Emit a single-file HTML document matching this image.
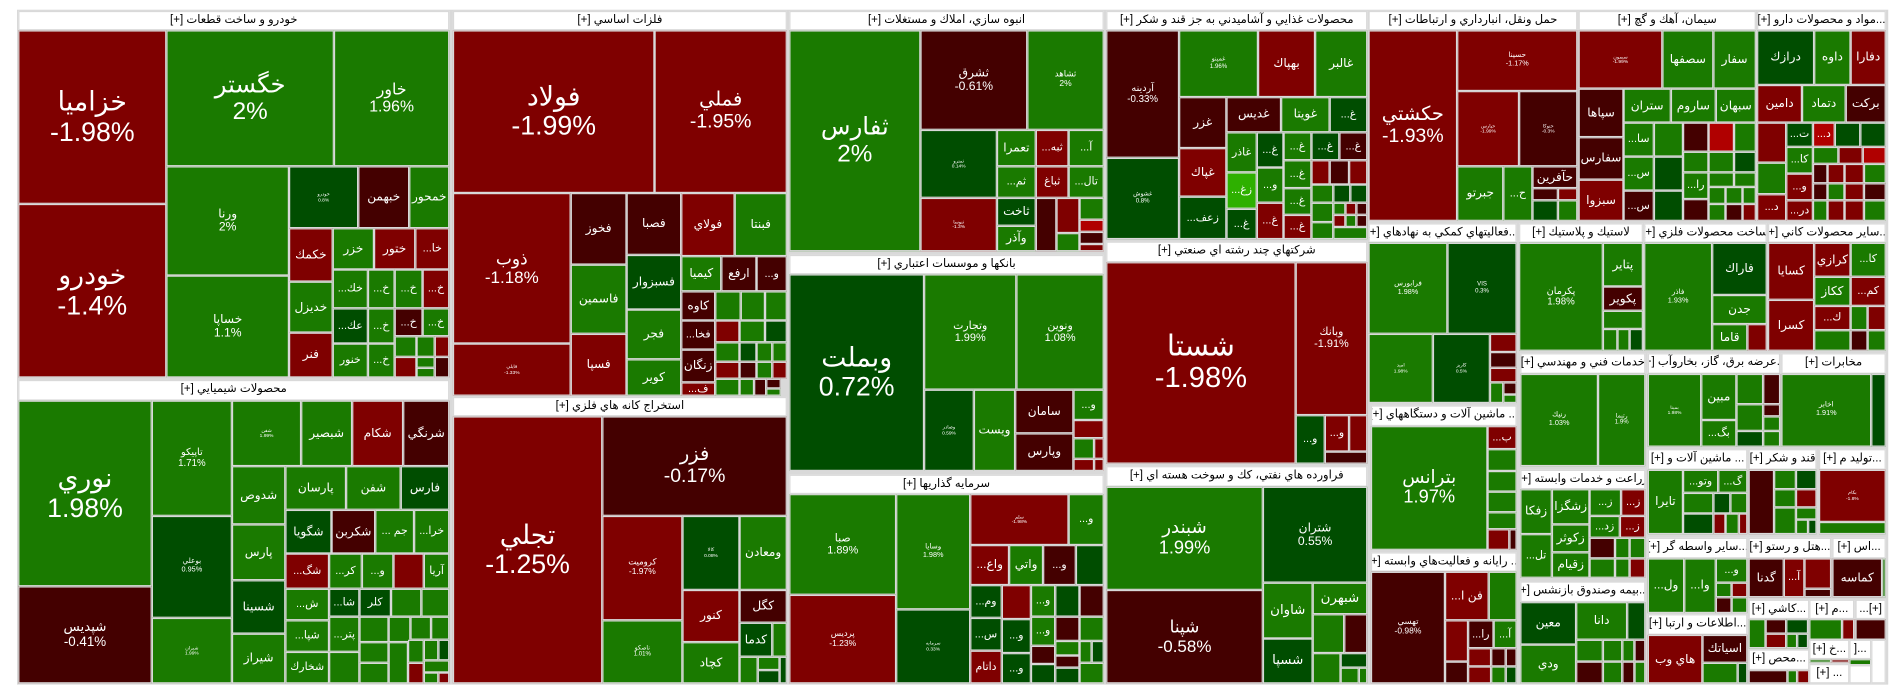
<!DOCTYPE html>
<html><head><meta charset="utf-8">
<style>
html,body{margin:0;padding:0;background:#fff;width:1904px;height:698px;overflow:hidden}
#c{position:absolute;left:0;top:0;width:1568px;height:575px;transform:scale(1.21429,1.2139);transform-origin:0 0;font-family:"Liberation Sans","DejaVu Sans",sans-serif}
#f{position:absolute;left:14px;top:8px;width:1541px;height:556px;background:#d9d9d9}
.t{position:absolute;box-sizing:border-box;border:1px solid #d9d9d9;display:flex;flex-direction:column;align-items:center;justify-content:center;color:#fff;overflow:hidden;text-align:center;line-height:1.1;white-space:nowrap;font-size:9px;direction:ltr}
.h{background:#fff;color:#000;font-size:9.5px;direction:rtl}
.r{background:#7f0000}.m{background:#440000}.g{background:#1a7a00}.d{background:#004d00}.b{background:#b00000}.l{background:#2eb000}.w{background:#fff}
</style></head><body><div id="c"><div id="f"></div>

<div class="t h" style="left:15px;top:9px;width:355px;height:16px">خودرو و ساخت قطعات [+]</div>
<div class="t r" style="left:15px;top:25px;width:122px;height:143px;font-size:22px">خزاميا<br>-1.98%</div>
<div class="t r" style="left:15px;top:168px;width:122px;height:143px;font-size:22px">خودرو<br>-1.4%</div>
<div class="t g" style="left:137px;top:25px;width:138px;height:112px;font-size:20px">خگستر<br>2%</div>
<div class="t g" style="left:275px;top:25px;width:95px;height:112px;font-size:13px">خاور<br>1.96%</div>
<div class="t g" style="left:137px;top:137px;width:101px;height:90px;font-size:10px">ورنا<br>2%</div>
<div class="t g" style="left:137px;top:227px;width:101px;height:84px;font-size:10px">خساپا<br>1.1%</div>
<div class="t d" style="left:238px;top:137px;width:57px;height:51px;font-size:4px">خودرو<br>0.8%</div>
<div class="t m" style="left:295px;top:137px;width:42px;height:51px;font-size:10px">خبهمن</div>
<div class="t g" style="left:337px;top:137px;width:33px;height:51px;font-size:10px">خمحور</div>
<div class="t r" style="left:238px;top:188px;width:36px;height:44px;font-size:10px">خكمك</div>
<div class="t g" style="left:238px;top:232px;width:36px;height:42px;font-size:10px">خديزل</div>
<div class="t r" style="left:238px;top:274px;width:36px;height:37px;font-size:10px">فنر</div>
<div class="t g" style="left:274px;top:188px;width:34px;height:34px;font-size:10px">خزر</div>
<div class="t r" style="left:308px;top:188px;width:34px;height:34px;font-size:10px">ختور</div>
<div class="t r" style="left:342px;top:188px;width:28px;height:34px;font-size:9px">...خا</div>
<div class="t g" style="left:274px;top:222px;width:29px;height:32px">...خك</div>
<div class="t g" style="left:303px;top:222px;width:22px;height:32px">...خ</div>
<div class="t g" style="left:325px;top:222px;width:23px;height:32px">...خ</div>
<div class="t r" style="left:348px;top:222px;width:22px;height:32px">...خ</div>
<div class="t d" style="left:274px;top:254px;width:29px;height:29px">...عك</div>
<div class="t g" style="left:303px;top:254px;width:22px;height:29px">...خ</div>
<div class="t m" style="left:325px;top:254px;width:23px;height:23px">...خ</div>
<div class="t g" style="left:348px;top:254px;width:22px;height:23px">...خ</div>
<div class="t g" style="left:274px;top:283px;width:29px;height:28px">خنور</div>
<div class="t g" style="left:303px;top:283px;width:22px;height:28px">...خ</div>
<div class="t g" style="left:325px;top:277px;width:18px;height:17px"></div>
<div class="t g" style="left:343px;top:277px;width:15px;height:17px"></div>
<div class="t r" style="left:358px;top:277px;width:12px;height:17px"></div>
<div class="t r" style="left:325px;top:294px;width:18px;height:17px"></div>
<div class="t g" style="left:343px;top:294px;width:15px;height:9px"></div>
<div class="t g" style="left:343px;top:303px;width:15px;height:8px"></div>
<div class="t m" style="left:358px;top:294px;width:12px;height:17px"></div>

<div class="t h" style="left:15px;top:313px;width:355px;height:17px">محصولات شيميايي [+]</div>
<div class="t g" style="left:15px;top:330px;width:110px;height:153px;font-size:22px">نوري<br>1.98%</div>
<div class="t m" style="left:15px;top:483px;width:110px;height:80px;font-size:11px">شپديس<br>-0.41%</div>
<div class="t g" style="left:125px;top:330px;width:66px;height:95px;font-size:8px">تاپيكو<br>1.71%</div>
<div class="t d" style="left:125px;top:425px;width:66px;height:84px;font-size:6px">بوعلي<br>0.95%</div>
<div class="t g" style="left:125px;top:509px;width:66px;height:54px;font-size:4px">شيران<br>1.99%</div>
<div class="t g" style="left:191px;top:330px;width:57px;height:54px;font-size:4px">شفن<br>1.99%</div>
<div class="t g" style="left:191px;top:384px;width:44px;height:48px;font-size:10px">شدوص</div>
<div class="t g" style="left:191px;top:432px;width:44px;height:46px;font-size:10px">پارس</div>
<div class="t d" style="left:191px;top:478px;width:44px;height:44px;font-size:10px">شسينا</div>
<div class="t g" style="left:191px;top:522px;width:44px;height:41px;font-size:10px">شيراز</div>
<div class="t g" style="left:248px;top:330px;width:42px;height:54px;font-size:10px">شبصير</div>
<div class="t r" style="left:290px;top:330px;width:42px;height:54px;font-size:10px">شكام</div>
<div class="t m" style="left:332px;top:330px;width:38px;height:54px;font-size:10px">شرنگي</div>
<div class="t g" style="left:235px;top:384px;width:50px;height:36px;font-size:10px">پارسان</div>
<div class="t g" style="left:285px;top:384px;width:45px;height:36px;font-size:10px">شفن</div>
<div class="t d" style="left:330px;top:384px;width:40px;height:36px;font-size:10px">فارس</div>
<div class="t d" style="left:235px;top:420px;width:38px;height:36px;font-size:10px">شگويا</div>
<div class="t m" style="left:273px;top:420px;width:36px;height:36px;font-size:10px">شكربن</div>
<div class="t g" style="left:309px;top:420px;width:32px;height:36px">... جم</div>
<div class="t g" style="left:341px;top:420px;width:29px;height:36px">...خرا</div>
<div class="t r" style="left:235px;top:456px;width:36px;height:29px">...شگ</div>
<div class="t g" style="left:271px;top:456px;width:27px;height:29px">...كر</div>
<div class="t g" style="left:298px;top:456px;width:26px;height:29px">...و</div>
<div class="t r" style="left:324px;top:456px;width:25px;height:29px"></div>
<div class="t g" style="left:349px;top:456px;width:21px;height:29px">آريا</div>
<div class="t g" style="left:235px;top:485px;width:36px;height:26px">...ش</div>
<div class="t d" style="left:271px;top:485px;width:25px;height:23px">...شا</div>
<div class="t d" style="left:296px;top:485px;width:26px;height:23px">كلر</div>
<div class="t g" style="left:322px;top:485px;width:25px;height:23px"></div>
<div class="t g" style="left:347px;top:485px;width:23px;height:23px"></div>
<div class="t g" style="left:235px;top:511px;width:36px;height:26px">...شپا</div>
<div class="t g" style="left:235px;top:537px;width:36px;height:26px">شخارك</div>
<div class="t g" style="left:271px;top:508px;width:25px;height:29px">...پتر</div>
<div class="t g" style="left:271px;top:537px;width:25px;height:26px"></div>
<div class="t g" style="left:296px;top:508px;width:24px;height:21px"></div>
<div class="t g" style="left:320px;top:508px;width:18px;height:21px"></div>
<div class="t g" style="left:338px;top:508px;width:17px;height:19px"></div>
<div class="t g" style="left:355px;top:508px;width:15px;height:19px"></div>
<div class="t g" style="left:296px;top:529px;width:24px;height:17px"></div>
<div class="t g" style="left:296px;top:546px;width:24px;height:17px"></div>
<div class="t g" style="left:320px;top:529px;width:16px;height:34px"></div>
<div class="t g" style="left:336px;top:527px;width:13px;height:19px"></div>
<div class="t r" style="left:336px;top:546px;width:13px;height:17px"></div>
<div class="t g" style="left:349px;top:527px;width:12px;height:17px"></div>
<div class="t d" style="left:361px;top:527px;width:9px;height:17px"></div>
<div class="t g" style="left:349px;top:544px;width:21px;height:10px"></div>
<div class="t g" style="left:349px;top:554px;width:12px;height:9px"></div>
<div class="t r" style="left:361px;top:554px;width:9px;height:9px"></div>

<div class="t h" style="left:373px;top:9px;width:275px;height:16px">فلزات اساسي [+]</div>
<div class="t r" style="left:373px;top:25px;width:166px;height:134px;font-size:22px">فولاد<br>-1.99%</div>
<div class="t r" style="left:539px;top:25px;width:109px;height:134px;font-size:16px">فملي<br>-1.95%</div>
<div class="t r" style="left:373px;top:159px;width:97px;height:124px;font-size:14px">ذوب<br>-1.18%</div>
<div class="t r" style="left:373px;top:283px;width:97px;height:43px;font-size:4px">فايلي<br>-1.33%</div>
<div class="t m" style="left:470px;top:159px;width:46px;height:59px;font-size:10px">فخوز</div>
<div class="t g" style="left:470px;top:218px;width:46px;height:57px;font-size:10px">فاسمين</div>
<div class="t r" style="left:470px;top:275px;width:46px;height:51px;font-size:10px">فسپا</div>
<div class="t m" style="left:516px;top:159px;width:45px;height:51px;font-size:10px">فصبا</div>
<div class="t d" style="left:516px;top:210px;width:45px;height:45px;font-size:10px">فسبزوار</div>
<div class="t g" style="left:516px;top:255px;width:45px;height:41px;font-size:10px">فجر</div>
<div class="t g" style="left:516px;top:296px;width:45px;height:30px;font-size:10px">كوير</div>
<div class="t r" style="left:561px;top:159px;width:44px;height:52px;font-size:10px">فولاي</div>
<div class="t g" style="left:605px;top:159px;width:43px;height:52px;font-size:10px">فبنتا</div>
<div class="t g" style="left:561px;top:211px;width:33px;height:29px;font-size:10px">كيميا</div>
<div class="t m" style="left:594px;top:211px;width:29px;height:29px;font-size:10px">ارفع</div>
<div class="t m" style="left:623px;top:211px;width:25px;height:29px">...و</div>
<div class="t m" style="left:561px;top:240px;width:28px;height:24px;font-size:10px">كاوه</div>
<div class="t m" style="left:561px;top:264px;width:28px;height:24px">...فخا</div>
<div class="t m" style="left:561px;top:288px;width:28px;height:27px;font-size:10px">زنگان</div>
<div class="t r" style="left:561px;top:315px;width:28px;height:11px">...ف</div>
<div class="t g" style="left:589px;top:240px;width:21px;height:24px"></div>
<div class="t g" style="left:610px;top:240px;width:20px;height:24px"></div>
<div class="t g" style="left:630px;top:240px;width:18px;height:24px"></div>
<div class="t r" style="left:589px;top:264px;width:20px;height:18px"></div>
<div class="t g" style="left:609px;top:264px;width:21px;height:18px"></div>
<div class="t d" style="left:630px;top:264px;width:18px;height:18px"></div>
<div class="t g" style="left:589px;top:282px;width:20px;height:16px"></div>
<div class="t d" style="left:609px;top:282px;width:14px;height:16px"></div>
<div class="t g" style="left:623px;top:282px;width:13px;height:16px"></div>
<div class="t g" style="left:636px;top:282px;width:12px;height:16px"></div>
<div class="t r" style="left:589px;top:298px;width:20px;height:14px"></div>
<div class="t m" style="left:609px;top:298px;width:14px;height:14px"></div>
<div class="t g" style="left:623px;top:298px;width:13px;height:14px"></div>
<div class="t r" style="left:636px;top:298px;width:12px;height:14px"></div>
<div class="t g" style="left:589px;top:312px;width:20px;height:14px"></div>
<div class="t g" style="left:609px;top:312px;width:12px;height:14px"></div>
<div class="t m" style="left:621px;top:312px;width:10px;height:14px"></div>
<div class="t m" style="left:631px;top:312px;width:12px;height:8px"></div>
<div class="t g" style="left:631px;top:320px;width:12px;height:6px"></div>

<div class="t h" style="left:373px;top:327px;width:275px;height:16px">استخراج كانه هاي فلزي [+]</div>
<div class="t r" style="left:373px;top:343px;width:123px;height:220px;font-size:22px">تجلي<br>-1.25%</div>
<div class="t m" style="left:496px;top:343px;width:152px;height:82px;font-size:16px">فزر<br>-0.17%</div>
<div class="t r" style="left:496px;top:425px;width:66px;height:86px;font-size:7px">كروميت<br>-1.97%</div>
<div class="t g" style="left:496px;top:511px;width:66px;height:52px;font-size:5px">ناصكو<br>1.01%</div>
<div class="t d" style="left:562px;top:425px;width:47px;height:61px;font-size:4px">كالا<br>0.08%</div>
<div class="t g" style="left:609px;top:425px;width:39px;height:61px;font-size:10px">ومعادن</div>
<div class="t r" style="left:562px;top:486px;width:47px;height:43px;font-size:10px">كنور</div>
<div class="t g" style="left:562px;top:529px;width:47px;height:34px;font-size:10px">كچاد</div>
<div class="t m" style="left:609px;top:486px;width:39px;height:27px;font-size:10px">كگل</div>
<div class="t d" style="left:609px;top:513px;width:27px;height:28px;font-size:10px">كدما</div>
<div class="t g" style="left:636px;top:513px;width:12px;height:28px"></div>
<div class="t g" style="left:609px;top:541px;width:15px;height:22px"></div>
<div class="t g" style="left:624px;top:541px;width:18px;height:11px"></div>
<div class="t d" style="left:624px;top:552px;width:18px;height:11px"></div>
<div class="t d" style="left:642px;top:541px;width:6px;height:22px"></div>

<div class="t h" style="left:650px;top:9px;width:259px;height:16px">انبوه سازي، املاك و مستغلات [+]</div>
<div class="t g" style="left:650px;top:25px;width:108px;height:182px;font-size:20px">ثفارس<br>2%</div>
<div class="t m" style="left:758px;top:25px;width:88px;height:82px;font-size:10px">ثشرق<br>-0.61%</div>
<div class="t g" style="left:846px;top:25px;width:63px;height:82px;font-size:7px">ثشاهد<br>2%</div>
<div class="t d" style="left:758px;top:107px;width:63px;height:56px;font-size:4px">ثمترو<br>0.14%</div>
<div class="t r" style="left:758px;top:163px;width:63px;height:44px;font-size:4px">ثنوسا<br>-1.3%</div>
<div class="t g" style="left:821px;top:107px;width:32px;height:30px;font-size:10px">تعمرا</div>
<div class="t g" style="left:821px;top:137px;width:32px;height:26px">...ثم</div>
<div class="t d" style="left:821px;top:163px;width:32px;height:23px;font-size:10px">ثاخت</div>
<div class="t g" style="left:821px;top:186px;width:32px;height:21px;font-size:10px">وآذر</div>
<div class="t r" style="left:853px;top:107px;width:27px;height:30px">...ثبه</div>
<div class="t r" style="left:853px;top:137px;width:27px;height:26px">ثباغ</div>
<div class="t m" style="left:853px;top:163px;width:17px;height:44px"></div>
<div class="t r" style="left:870px;top:163px;width:19px;height:29px"></div>
<div class="t g" style="left:870px;top:192px;width:19px;height:15px"></div>
<div class="t g" style="left:880px;top:107px;width:29px;height:30px">...آ</div>
<div class="t g" style="left:880px;top:137px;width:29px;height:26px">...تال</div>
<div class="t g" style="left:889px;top:163px;width:20px;height:18px"></div>
<div class="t b" style="left:889px;top:181px;width:20px;height:10px"></div>
<div class="t m" style="left:889px;top:191px;width:20px;height:10px"></div>
<div class="t r" style="left:889px;top:201px;width:20px;height:6px"></div>

<div class="t h" style="left:650px;top:210px;width:259px;height:16px">بانكها و موسسات اعتباري [+]</div>
<div class="t d" style="left:650px;top:226px;width:111px;height:162px;font-size:22px">وبملت<br>0.72%</div>
<div class="t g" style="left:761px;top:226px;width:76px;height:95px;font-size:9px">وتجارت<br>1.99%</div>
<div class="t g" style="left:837px;top:226px;width:72px;height:95px;font-size:9px">ونوين<br>1.08%</div>
<div class="t d" style="left:761px;top:321px;width:41px;height:67px;font-size:4px">وصادر<br>0.59%</div>
<div class="t g" style="left:802px;top:321px;width:34px;height:67px;font-size:10px">ويست</div>
<div class="t m" style="left:836px;top:321px;width:48px;height:36px;font-size:10px">سامان</div>
<div class="t m" style="left:836px;top:357px;width:48px;height:31px;font-size:10px">وپارس</div>
<div class="t g" style="left:884px;top:321px;width:25px;height:25px">...و</div>
<div class="t r" style="left:884px;top:346px;width:25px;height:15px"></div>
<div class="t g" style="left:884px;top:361px;width:17px;height:17px"></div>
<div class="t r" style="left:901px;top:361px;width:8px;height:17px"></div>
<div class="t r" style="left:884px;top:378px;width:17px;height:10px"></div>
<div class="t r" style="left:901px;top:378px;width:8px;height:10px"></div>

<div class="t h" style="left:650px;top:391px;width:259px;height:16px">سرمايه گذاريها [+]</div>
<div class="t g" style="left:650px;top:407px;width:88px;height:83px;font-size:9px">صبا<br>1.89%</div>
<div class="t r" style="left:650px;top:490px;width:88px;height:73px;font-size:7px">پرديس<br>-1.23%</div>
<div class="t g" style="left:738px;top:407px;width:61px;height:95px;font-size:6px">وسايا<br>1.98%</div>
<div class="t d" style="left:738px;top:502px;width:61px;height:61px;font-size:4px">سرمايه<br>0.33%</div>
<div class="t r" style="left:799px;top:407px;width:81px;height:42px;font-size:4px">سلم<br>-1.98%</div>
<div class="t g" style="left:880px;top:407px;width:29px;height:42px">...و</div>
<div class="t r" style="left:799px;top:449px;width:32px;height:33px;font-size:10px">...واع</div>
<div class="t g" style="left:831px;top:449px;width:28px;height:33px;font-size:10px">واتي</div>
<div class="t m" style="left:859px;top:449px;width:27px;height:33px">...و</div>
<div class="t d" style="left:886px;top:449px;width:23px;height:33px"></div>
<div class="t d" style="left:799px;top:482px;width:26px;height:27px">...وم</div>
<div class="t d" style="left:799px;top:509px;width:26px;height:27px">...س</div>
<div class="t r" style="left:799px;top:536px;width:26px;height:27px">داتام</div>
<div class="t r" style="left:825px;top:482px;width:24px;height:28px"></div>
<div class="t d" style="left:825px;top:510px;width:24px;height:28px">...و</div>
<div class="t d" style="left:825px;top:538px;width:24px;height:25px">...و</div>
<div class="t g" style="left:849px;top:482px;width:20px;height:26px">...و</div>
<div class="t g" style="left:849px;top:508px;width:20px;height:24px">...و</div>
<div class="t m" style="left:849px;top:532px;width:20px;height:15px"></div>
<div class="t d" style="left:849px;top:547px;width:20px;height:16px"></div>
<div class="t d" style="left:869px;top:482px;width:20px;height:26px"></div>
<div class="t m" style="left:869px;top:508px;width:20px;height:20px"></div>
<div class="t g" style="left:869px;top:528px;width:20px;height:12px"></div>
<div class="t m" style="left:869px;top:540px;width:20px;height:10px"></div>
<div class="t d" style="left:869px;top:550px;width:20px;height:13px"></div>
<div class="t m" style="left:889px;top:482px;width:20px;height:26px"></div>
<div class="t g" style="left:889px;top:508px;width:20px;height:20px"></div>
<div class="t g" style="left:889px;top:528px;width:10px;height:18px"></div>
<div class="t d" style="left:899px;top:528px;width:10px;height:18px"></div>
<div class="t g" style="left:889px;top:546px;width:20px;height:17px"></div>

<div class="t h" style="left:911px;top:9px;width:215px;height:16px">محصولات غذايي و آشاميدني به جز قند و شكر [+]</div>
<div class="t m" style="left:911px;top:25px;width:60px;height:105px;font-size:8px">آردينه<br>-0.33%</div>
<div class="t d" style="left:911px;top:130px;width:60px;height:67px;font-size:5px">غشوش<br>0.8%</div>
<div class="t g" style="left:971px;top:25px;width:65px;height:55px;font-size:5px">غمينو<br>1.96%</div>
<div class="t r" style="left:1036px;top:25px;width:47px;height:55px;font-size:10px">بهپاك</div>
<div class="t g" style="left:1083px;top:25px;width:43px;height:55px;font-size:10px">غالبر</div>
<div class="t m" style="left:971px;top:80px;width:39px;height:42px;font-size:10px">غزر</div>
<div class="t r" style="left:971px;top:122px;width:39px;height:40px;font-size:10px">غپاك</div>
<div class="t d" style="left:971px;top:162px;width:39px;height:35px">...زعف</div>
<div class="t m" style="left:1010px;top:80px;width:45px;height:29px;font-size:10px">غديس</div>
<div class="t g" style="left:1055px;top:80px;width:40px;height:29px;font-size:10px">غويتا</div>
<div class="t d" style="left:1095px;top:80px;width:31px;height:29px">...غ</div>
<div class="t g" style="left:1010px;top:109px;width:25px;height:33px">غاذر</div>
<div class="t l" style="left:1010px;top:142px;width:25px;height:30px">...زغ</div>
<div class="t d" style="left:1010px;top:172px;width:25px;height:25px">...غ</div>
<div class="t d" style="left:1035px;top:109px;width:22px;height:29px">...غ</div>
<div class="t g" style="left:1035px;top:138px;width:22px;height:29px">...و</div>
<div class="t r" style="left:1035px;top:167px;width:22px;height:30px">...غ</div>
<div class="t g" style="left:1057px;top:109px;width:23px;height:23px">...غ</div>
<div class="t g" style="left:1057px;top:132px;width:23px;height:23px">...غ</div>
<div class="t g" style="left:1057px;top:155px;width:23px;height:22px">...غ</div>
<div class="t r" style="left:1057px;top:177px;width:23px;height:20px">...غ</div>
<div class="t d" style="left:1080px;top:109px;width:23px;height:23px">...غ</div>
<div class="t r" style="left:1080px;top:132px;width:15px;height:20px"></div>
<div class="t m" style="left:1095px;top:132px;width:16px;height:20px"></div>
<div class="t r" style="left:1111px;top:132px;width:15px;height:20px"></div>
<div class="t m" style="left:1103px;top:109px;width:23px;height:23px">...غ</div>
<div class="t g" style="left:1080px;top:152px;width:18px;height:15px"></div>
<div class="t d" style="left:1098px;top:152px;width:14px;height:15px"></div>
<div class="t d" style="left:1112px;top:152px;width:14px;height:15px"></div>
<div class="t g" style="left:1080px;top:167px;width:18px;height:16px"></div>
<div class="t g" style="left:1098px;top:167px;width:10px;height:10px"></div>
<div class="t r" style="left:1108px;top:167px;width:9px;height:10px"></div>
<div class="t m" style="left:1117px;top:167px;width:9px;height:10px"></div>
<div class="t g" style="left:1080px;top:183px;width:18px;height:14px"></div>
<div class="t r" style="left:1098px;top:177px;width:10px;height:10px"></div>
<div class="t g" style="left:1108px;top:177px;width:9px;height:10px"></div>
<div class="t m" style="left:1117px;top:177px;width:9px;height:10px"></div>
<div class="t g" style="left:1098px;top:187px;width:28px;height:10px"></div>

<div class="t h" style="left:911px;top:199px;width:215px;height:17px">شركتهاي چند رشته اي صنعتي [+]</div>
<div class="t r" style="left:911px;top:216px;width:156px;height:166px;font-size:24px">شستا<br>-1.98%</div>
<div class="t r" style="left:1067px;top:216px;width:59px;height:126px;font-size:9px">وبانك<br>-1.91%</div>
<div class="t d" style="left:1067px;top:342px;width:24px;height:40px">...و</div>
<div class="t r" style="left:1091px;top:342px;width:20px;height:30px">...و</div>
<div class="t r" style="left:1111px;top:342px;width:15px;height:30px"></div>
<div class="t m" style="left:1091px;top:372px;width:35px;height:10px"></div>

<div class="t h" style="left:911px;top:384px;width:215px;height:17px">فراورده هاي نفتي، كك و سوخت هسته اي [+]</div>
<div class="t g" style="left:911px;top:401px;width:129px;height:85px;font-size:15px">شبندر<br>1.99%</div>
<div class="t m" style="left:911px;top:486px;width:129px;height:77px;font-size:14px">شپنا<br>-0.58%</div>
<div class="t d" style="left:1040px;top:401px;width:86px;height:79px;font-size:10px">شتران<br>0.55%</div>
<div class="t g" style="left:1040px;top:480px;width:41px;height:46px;font-size:11px">شاوان</div>
<div class="t d" style="left:1040px;top:526px;width:41px;height:37px;font-size:11px">شسپا</div>
<div class="t g" style="left:1081px;top:480px;width:45px;height:26px;font-size:11px">شبهرن</div>
<div class="t g" style="left:1081px;top:506px;width:26px;height:32px"></div>
<div class="t m" style="left:1107px;top:506px;width:19px;height:32px"></div>
<div class="t g" style="left:1081px;top:538px;width:23px;height:25px"></div>
<div class="t d" style="left:1104px;top:538px;width:22px;height:12px"></div>
<div class="t g" style="left:1104px;top:550px;width:15px;height:13px"></div>
<div class="t g" style="left:1119px;top:550px;width:7px;height:13px"></div>

<div class="t h" style="left:1127px;top:9px;width:172px;height:16px">حمل ونقل، انبارداري و ارتباطات [+]</div>
<div class="t r" style="left:1127px;top:25px;width:73px;height:157px;font-size:16px">حكشتي<br>-1.93%</div>
<div class="t r" style="left:1200px;top:25px;width:99px;height:50px;font-size:6px">حسينا<br>-1.17%</div>
<div class="t r" style="left:1200px;top:75px;width:51px;height:62px;font-size:4px">حپارس<br>-1.99%</div>
<div class="t m" style="left:1251px;top:75px;width:48px;height:62px;font-size:4px">حتوكا<br>-0.3%</div>
<div class="t g" style="left:1200px;top:137px;width:38px;height:45px;font-size:10px">جبرتو</div>
<div class="t g" style="left:1238px;top:137px;width:24px;height:45px">...ح</div>
<div class="t m" style="left:1262px;top:137px;width:37px;height:18px;font-size:10px">حآفرين</div>
<div class="t m" style="left:1262px;top:155px;width:21px;height:10px"></div>
<div class="t r" style="left:1283px;top:155px;width:16px;height:10px"></div>
<div class="t d" style="left:1262px;top:165px;width:21px;height:17px"></div>
<div class="t g" style="left:1283px;top:165px;width:16px;height:17px"></div>

<div class="t h" style="left:1300px;top:9px;width:146px;height:16px">سيمان، آهك و گچ [+]</div>
<div class="t r" style="left:1300px;top:25px;width:69px;height:48px;font-size:4px">سيمون<br>-1.99%</div>
<div class="t g" style="left:1369px;top:25px;width:42px;height:48px;font-size:10px">سصفها</div>
<div class="t g" style="left:1411px;top:25px;width:35px;height:48px;font-size:10px">سفار</div>
<div class="t m" style="left:1300px;top:73px;width:37px;height:40px;font-size:10px">سپاها</div>
<div class="t m" style="left:1300px;top:113px;width:37px;height:35px;font-size:10px">سفارس</div>
<div class="t r" style="left:1300px;top:148px;width:37px;height:34px;font-size:10px">سبزوا</div>
<div class="t g" style="left:1337px;top:73px;width:39px;height:28px;font-size:10px">ستران</div>
<div class="t g" style="left:1376px;top:73px;width:37px;height:28px;font-size:10px">ساروم</div>
<div class="t g" style="left:1413px;top:73px;width:33px;height:28px;font-size:10px">سبهان</div>
<div class="t g" style="left:1337px;top:101px;width:25px;height:28px">...سا</div>
<div class="t g" style="left:1337px;top:129px;width:25px;height:28px">...س</div>
<div class="t m" style="left:1337px;top:157px;width:25px;height:25px">...س</div>
<div class="t g" style="left:1362px;top:101px;width:24px;height:28px"></div>
<div class="t d" style="left:1362px;top:129px;width:24px;height:28px"></div>
<div class="t d" style="left:1362px;top:157px;width:24px;height:25px"></div>
<div class="t m" style="left:1386px;top:101px;width:21px;height:24px"></div>
<div class="t b" style="left:1407px;top:101px;width:21px;height:24px"></div>
<div class="t g" style="left:1428px;top:101px;width:18px;height:24px"></div>
<div class="t g" style="left:1386px;top:125px;width:21px;height:17px"></div>
<div class="t g" style="left:1407px;top:125px;width:21px;height:17px"></div>
<div class="t d" style="left:1428px;top:125px;width:18px;height:17px"></div>
<div class="t g" style="left:1386px;top:142px;width:21px;height:22px">...را</div>
<div class="t m" style="left:1386px;top:164px;width:21px;height:18px"></div>
<div class="t g" style="left:1407px;top:142px;width:21px;height:12px"></div>
<div class="t g" style="left:1428px;top:142px;width:18px;height:12px"></div>
<div class="t g" style="left:1407px;top:154px;width:14px;height:14px"></div>
<div class="t g" style="left:1421px;top:154px;width:14px;height:14px"></div>
<div class="t g" style="left:1435px;top:154px;width:11px;height:14px"></div>
<div class="t g" style="left:1407px;top:168px;width:14px;height:14px"></div>
<div class="t m" style="left:1421px;top:168px;width:14px;height:14px"></div>
<div class="t r" style="left:1435px;top:168px;width:11px;height:14px"></div>

<div class="t h" style="left:1447px;top:9px;width:106px;height:16px">...مواد و محصولات دارو [+]</div>
<div class="t d" style="left:1447px;top:25px;width:47px;height:45px;font-size:10px">درازك</div>
<div class="t g" style="left:1494px;top:25px;width:30px;height:45px;font-size:10px">داوه</div>
<div class="t r" style="left:1524px;top:25px;width:29px;height:45px;font-size:10px">دفارا</div>
<div class="t r" style="left:1447px;top:70px;width:37px;height:31px;font-size:10px">دامين</div>
<div class="t g" style="left:1484px;top:70px;width:36px;height:31px;font-size:10px">دتماد</div>
<div class="t m" style="left:1520px;top:70px;width:33px;height:31px;font-size:10px">بركت</div>
<div class="t r" style="left:1447px;top:101px;width:24px;height:33px"></div>
<div class="t g" style="left:1447px;top:134px;width:24px;height:26px"></div>
<div class="t r" style="left:1447px;top:160px;width:24px;height:22px">...د</div>
<div class="t d" style="left:1471px;top:101px;width:22px;height:20px">...ت</div>
<div class="t g" style="left:1471px;top:121px;width:22px;height:22px">...كا</div>
<div class="t r" style="left:1471px;top:143px;width:22px;height:22px">...و</div>
<div class="t r" style="left:1471px;top:165px;width:22px;height:17px">...در</div>
<div class="t b" style="left:1493px;top:101px;width:18px;height:20px">...د</div>
<div class="t d" style="left:1511px;top:101px;width:21px;height:20px"></div>
<div class="t d" style="left:1532px;top:101px;width:21px;height:20px"></div>
<div class="t g" style="left:1493px;top:121px;width:21px;height:14px"></div>
<div class="t r" style="left:1514px;top:121px;width:20px;height:14px"></div>
<div class="t b" style="left:1534px;top:121px;width:19px;height:14px"></div>
<div class="t m" style="left:1493px;top:135px;width:12px;height:16px"></div>
<div class="t r" style="left:1505px;top:135px;width:14px;height:16px"></div>
<div class="t r" style="left:1519px;top:135px;width:16px;height:16px"></div>
<div class="t g" style="left:1535px;top:135px;width:18px;height:16px"></div>
<div class="t m" style="left:1493px;top:151px;width:12px;height:14px"></div>
<div class="t g" style="left:1505px;top:151px;width:14px;height:14px"></div>
<div class="t r" style="left:1519px;top:151px;width:16px;height:14px"></div>
<div class="t m" style="left:1535px;top:151px;width:18px;height:14px"></div>
<div class="t g" style="left:1493px;top:165px;width:12px;height:17px"></div>
<div class="t r" style="left:1505px;top:165px;width:14px;height:17px"></div>
<div class="t r" style="left:1519px;top:165px;width:16px;height:17px"></div>
<div class="t g" style="left:1535px;top:165px;width:18px;height:17px"></div>

<div class="t h" style="left:1127px;top:184px;width:122px;height:16px">...فعاليتهاي كمكي به نهادهاي [+]</div>
<div class="t g" style="left:1127px;top:200px;width:65px;height:75px;font-size:6px">فرابورس<br>1.98%</div>
<div class="t d" style="left:1192px;top:200px;width:57px;height:75px;font-size:5px">VIS<br>0.3%</div>
<div class="t g" style="left:1127px;top:275px;width:53px;height:57px;font-size:4px">اميد<br>1.98%</div>
<div class="t d" style="left:1180px;top:275px;width:47px;height:57px;font-size:4px">كاريز<br>0.5%</div>
<div class="t r" style="left:1227px;top:275px;width:22px;height:15px"></div>
<div class="t m" style="left:1227px;top:290px;width:22px;height:13px"></div>
<div class="t r" style="left:1227px;top:303px;width:22px;height:12px"></div>
<div class="t g" style="left:1227px;top:315px;width:11px;height:17px"></div>
<div class="t m" style="left:1238px;top:315px;width:11px;height:10px"></div>
<div class="t g" style="left:1238px;top:325px;width:11px;height:7px"></div>

<div class="t h" style="left:1129px;top:334px;width:120px;height:17px">... ماشين آلات و دستگاههاي [+]</div>
<div class="t g" style="left:1129px;top:351px;width:96px;height:102px;font-size:15px">بترانس<br>1.97%</div>
<div class="t r" style="left:1225px;top:351px;width:24px;height:19px">...ب</div>
<div class="t g" style="left:1225px;top:370px;width:24px;height:18px"></div>
<div class="t g" style="left:1225px;top:388px;width:24px;height:17px"></div>
<div class="t g" style="left:1225px;top:405px;width:24px;height:17px"></div>
<div class="t g" style="left:1225px;top:422px;width:24px;height:14px"></div>
<div class="t r" style="left:1225px;top:436px;width:18px;height:17px"></div>
<div class="t m" style="left:1243px;top:436px;width:6px;height:17px"></div>

<div class="t h" style="left:1129px;top:455px;width:120px;height:16px">... رايانه و فعاليت‌هاي وابسته [+]</div>
<div class="t m" style="left:1129px;top:471px;width:61px;height:92px;font-size:7px">تهسي<br>-0.98%</div>
<div class="t r" style="left:1190px;top:471px;width:36px;height:40px;font-size:10px">...فن ا</div>
<div class="t g" style="left:1226px;top:471px;width:23px;height:40px"></div>
<div class="t r" style="left:1190px;top:511px;width:19px;height:34px"></div>
<div class="t m" style="left:1209px;top:511px;width:21px;height:23px">...را</div>
<div class="t g" style="left:1230px;top:511px;width:19px;height:23px">...آ</div>
<div class="t m" style="left:1190px;top:545px;width:19px;height:18px"></div>
<div class="t r" style="left:1209px;top:534px;width:19px;height:15px"></div>
<div class="t m" style="left:1228px;top:534px;width:12px;height:15px"></div>
<div class="t m" style="left:1240px;top:534px;width:9px;height:15px"></div>
<div class="t r" style="left:1209px;top:549px;width:19px;height:14px"></div>
<div class="t g" style="left:1228px;top:549px;width:12px;height:14px"></div>
<div class="t d" style="left:1240px;top:549px;width:9px;height:14px"></div>

<div class="t h" style="left:1251px;top:184px;width:102px;height:16px">لاستيك و پلاستيك [+]</div>
<div class="t g" style="left:1251px;top:200px;width:69px;height:89px;font-size:8px">پكرمان<br>1.98%</div>
<div class="t g" style="left:1320px;top:200px;width:33px;height:36px;font-size:10px">پتاير</div>
<div class="t m" style="left:1320px;top:236px;width:33px;height:20px;font-size:10px">پكوير</div>
<div class="t g" style="left:1320px;top:256px;width:33px;height:15px"></div>
<div class="t g" style="left:1320px;top:271px;width:12px;height:18px"></div>
<div class="t g" style="left:1332px;top:271px;width:10px;height:18px"></div>
<div class="t d" style="left:1342px;top:271px;width:11px;height:18px"></div>

<div class="t h" style="left:1354px;top:184px;width:101px;height:16px">ساخت محصولات فلزي [+]</div>
<div class="t g" style="left:1354px;top:200px;width:56px;height:89px;font-size:6px">فاذر<br>1.93%</div>
<div class="t d" style="left:1410px;top:200px;width:45px;height:43px;font-size:10px">فاراك</div>
<div class="t g" style="left:1410px;top:243px;width:45px;height:24px;font-size:10px">جدن</div>
<div class="t g" style="left:1410px;top:267px;width:29px;height:22px;font-size:10px">قاما</div>
<div class="t r" style="left:1439px;top:267px;width:16px;height:22px"></div>

<div class="t h" style="left:1456px;top:184px;width:97px;height:16px">...ساير محصولات كاني [+]</div>
<div class="t r" style="left:1456px;top:200px;width:38px;height:47px;font-size:10px">كسايا</div>
<div class="t r" style="left:1456px;top:247px;width:38px;height:42px;font-size:10px">كسرا</div>
<div class="t r" style="left:1494px;top:200px;width:30px;height:28px;font-size:10px">كرازي</div>
<div class="t g" style="left:1524px;top:200px;width:29px;height:28px">...كا</div>
<div class="t g" style="left:1494px;top:228px;width:30px;height:24px;font-size:10px">ككاز</div>
<div class="t r" style="left:1524px;top:228px;width:29px;height:24px">...كم</div>
<div class="t r" style="left:1494px;top:252px;width:30px;height:20px">...ك</div>
<div class="t g" style="left:1494px;top:272px;width:30px;height:17px"></div>
<div class="t g" style="left:1524px;top:252px;width:14px;height:20px"></div>
<div class="t r" style="left:1538px;top:252px;width:15px;height:20px"></div>
<div class="t m" style="left:1524px;top:272px;width:14px;height:17px"></div>
<div class="t g" style="left:1538px;top:272px;width:15px;height:17px"></div>

<div class="t h" style="left:1252px;top:291px;width:103px;height:17px">خدمات فني و مهندسي [+]</div>
<div class="t g" style="left:1252px;top:308px;width:64px;height:76px;font-size:6px">رنيك<br>1.03%</div>
<div class="t g" style="left:1316px;top:308px;width:39px;height:76px;font-size:5px">رتيما<br>1.9%</div>

<div class="t h" style="left:1252px;top:387px;width:103px;height:16px">زراعت و خدمات وابسته [+]</div>
<div class="t g" style="left:1252px;top:403px;width:26px;height:37px;font-size:10px">زفكا</div>
<div class="t g" style="left:1252px;top:440px;width:26px;height:36px">...تل</div>
<div class="t g" style="left:1278px;top:403px;width:31px;height:29px;font-size:10px">زشگزا</div>
<div class="t g" style="left:1278px;top:432px;width:31px;height:23px;font-size:10px">زكوثر</div>
<div class="t g" style="left:1278px;top:455px;width:31px;height:21px;font-size:10px">زقيام</div>
<div class="t g" style="left:1309px;top:403px;width:26px;height:22px">...ز</div>
<div class="t r" style="left:1335px;top:403px;width:20px;height:22px">...ز</div>
<div class="t g" style="left:1309px;top:425px;width:25px;height:18px">...زد</div>
<div class="t r" style="left:1334px;top:425px;width:21px;height:18px">...ز</div>
<div class="t m" style="left:1309px;top:443px;width:21px;height:17px"></div>
<div class="t g" style="left:1330px;top:443px;width:12px;height:17px"></div>
<div class="t g" style="left:1342px;top:443px;width:13px;height:17px"></div>
<div class="t g" style="left:1309px;top:460px;width:21px;height:16px"></div>
<div class="t g" style="left:1330px;top:460px;width:12px;height:16px"></div>
<div class="t r" style="left:1342px;top:460px;width:13px;height:16px"></div>

<div class="t h" style="left:1252px;top:479px;width:103px;height:17px">...بيمه وصندوق بازنشس [+]</div>
<div class="t d" style="left:1252px;top:496px;width:46px;height:35px;font-size:10px">معين</div>
<div class="t g" style="left:1252px;top:531px;width:46px;height:32px;font-size:10px">ودي</div>
<div class="t g" style="left:1298px;top:496px;width:42px;height:31px;font-size:10px">دانا</div>
<div class="t d" style="left:1340px;top:496px;width:15px;height:31px"></div>
<div class="t g" style="left:1298px;top:527px;width:22px;height:18px"></div>
<div class="t m" style="left:1298px;top:545px;width:22px;height:18px"></div>
<div class="t g" style="left:1320px;top:527px;width:16px;height:18px"></div>
<div class="t g" style="left:1320px;top:545px;width:16px;height:18px"></div>
<div class="t g" style="left:1336px;top:527px;width:10px;height:18px"></div>
<div class="t m" style="left:1346px;top:527px;width:9px;height:18px"></div>
<div class="t m" style="left:1336px;top:545px;width:10px;height:18px"></div>
<div class="t g" style="left:1346px;top:545px;width:9px;height:18px"></div>

<div class="t h" style="left:1357px;top:291px;width:109px;height:17px">...عرضه برق، گاز، بخاروآب [+]</div>
<div class="t g" style="left:1357px;top:308px;width:44px;height:60px;font-size:4px">بمپنا<br>1.98%</div>
<div class="t g" style="left:1401px;top:308px;width:29px;height:38px;font-size:10px">مبين</div>
<div class="t g" style="left:1401px;top:346px;width:29px;height:22px">...بگ</div>
<div class="t g" style="left:1430px;top:308px;width:22px;height:25px"></div>
<div class="t m" style="left:1452px;top:308px;width:14px;height:25px"></div>
<div class="t g" style="left:1430px;top:333px;width:22px;height:22px"></div>
<div class="t m" style="left:1452px;top:333px;width:14px;height:10px"></div>
<div class="t g" style="left:1452px;top:343px;width:14px;height:12px"></div>
<div class="t d" style="left:1430px;top:355px;width:22px;height:13px"></div>
<div class="t g" style="left:1452px;top:355px;width:14px;height:13px"></div>

<div class="t h" style="left:1467px;top:291px;width:86px;height:17px">مخابرات [+]</div>
<div class="t g" style="left:1467px;top:308px;width:74px;height:60px;font-size:6px">اخابر<br>1.91%</div>
<div class="t d" style="left:1541px;top:308px;width:12px;height:60px"></div>

<div class="t h" style="left:1357px;top:370px;width:82px;height:17px">... ماشين آلات و [+]</div>
<div class="t g" style="left:1357px;top:387px;width:29px;height:53px;font-size:10px">تايرا</div>
<div class="t g" style="left:1386px;top:387px;width:29px;height:19px">...وتو</div>
<div class="t g" style="left:1415px;top:387px;width:24px;height:19px">...گ</div>
<div class="t g" style="left:1386px;top:406px;width:25px;height:17px"></div>
<div class="t d" style="left:1411px;top:406px;width:14px;height:17px"></div>
<div class="t g" style="left:1425px;top:406px;width:14px;height:17px"></div>
<div class="t d" style="left:1386px;top:423px;width:25px;height:17px"></div>
<div class="t r" style="left:1411px;top:423px;width:10px;height:17px"></div>
<div class="t g" style="left:1421px;top:423px;width:11px;height:17px"></div>
<div class="t r" style="left:1432px;top:423px;width:7px;height:17px"></div>

<div class="t h" style="left:1440px;top:370px;width:56px;height:17px">قند و شكر [+]</div>
<div class="t m" style="left:1440px;top:387px;width:21px;height:53px"></div>
<div class="t g" style="left:1461px;top:387px;width:18px;height:16px"></div>
<div class="t d" style="left:1479px;top:387px;width:17px;height:16px"></div>
<div class="t g" style="left:1461px;top:403px;width:18px;height:15px"></div>
<div class="t r" style="left:1479px;top:403px;width:17px;height:15px"></div>
<div class="t g" style="left:1461px;top:418px;width:18px;height:22px"></div>
<div class="t g" style="left:1479px;top:418px;width:17px;height:10px"></div>
<div class="t g" style="left:1479px;top:428px;width:10px;height:12px"></div>
<div class="t d" style="left:1489px;top:428px;width:7px;height:12px"></div>

<div class="t h" style="left:1498px;top:370px;width:55px;height:17px">...توليد م [+]</div>
<div class="t r" style="left:1498px;top:387px;width:55px;height:43px;font-size:4px">بكام<br>-1.8%</div>
<div class="t g" style="left:1498px;top:430px;width:55px;height:10px"></div>

<div class="t h" style="left:1357px;top:443px;width:82px;height:17px">...ساير واسطه گر [+]</div>
<div class="t g" style="left:1357px;top:460px;width:30px;height:45px;font-size:10px">...ول</div>
<div class="t g" style="left:1387px;top:460px;width:26px;height:45px;font-size:10px">...وا</div>
<div class="t g" style="left:1413px;top:460px;width:26px;height:20px">...و</div>
<div class="t g" style="left:1413px;top:480px;width:13px;height:12px"></div>
<div class="t r" style="left:1426px;top:480px;width:13px;height:12px"></div>
<div class="t m" style="left:1413px;top:492px;width:13px;height:13px"></div>
<div class="t g" style="left:1426px;top:492px;width:13px;height:13px"></div>

<div class="t h" style="left:1357px;top:506px;width:82px;height:17px">...اطلاعات و ارتبا [+]</div>
<div class="t r" style="left:1357px;top:523px;width:45px;height:40px;font-size:10px">هاي وب</div>
<div class="t m" style="left:1402px;top:523px;width:37px;height:23px;font-size:10px">اسياتك</div>
<div class="t g" style="left:1402px;top:546px;width:29px;height:17px"></div>
<div class="t d" style="left:1431px;top:546px;width:8px;height:17px"></div>

<div class="t h" style="left:1440px;top:443px;width:68px;height:17px">...هتل و رستو [+]</div>
<div class="t m" style="left:1440px;top:460px;width:29px;height:32px;font-size:10px">گدنا</div>
<div class="t r" style="left:1469px;top:460px;width:17px;height:32px">...آ</div>
<div class="t r" style="left:1486px;top:460px;width:22px;height:25px"></div>
<div class="t m" style="left:1486px;top:485px;width:22px;height:7px"></div>
<div class="t h" style="left:1509px;top:443px;width:44px;height:17px">...اس [+]</div>
<div class="t m" style="left:1509px;top:460px;width:41px;height:32px;font-size:10px">كماسه</div>
<div class="t g" style="left:1550px;top:460px;width:3px;height:32px"></div>

<div class="t h" style="left:1440px;top:494px;width:50px;height:16px">...كاشي [+]</div>
<div class="t g" style="left:1440px;top:510px;width:14px;height:24px"></div>
<div class="t m" style="left:1454px;top:510px;width:17px;height:12px"></div>
<div class="t d" style="left:1471px;top:510px;width:18px;height:12px"></div>
<div class="t r" style="left:1454px;top:522px;width:17px;height:12px"></div>
<div class="t g" style="left:1471px;top:522px;width:9px;height:12px"></div>
<div class="t d" style="left:1480px;top:522px;width:9px;height:12px"></div>
<div class="t h" style="left:1490px;top:494px;width:37px;height:16px">...م [+]</div>
<div class="t g" style="left:1490px;top:510px;width:27px;height:17px"></div>
<div class="t r" style="left:1517px;top:510px;width:10px;height:17px"></div>
<div class="t h" style="left:1528px;top:494px;width:25px;height:16px">[+]...</div>
<div class="t m" style="left:1528px;top:510px;width:25px;height:17px"></div>
<div class="t h" style="left:1490px;top:527px;width:33px;height:16px">...خ [+]</div>
<div class="t g" style="left:1490px;top:543px;width:18px;height:3px"></div>
<div class="t r" style="left:1508px;top:543px;width:15px;height:3px"></div>
<div class="t h" style="left:1523px;top:527px;width:18px;height:16px">...[</div>
<div class="t g" style="left:1523px;top:543px;width:18px;height:5px"></div>
<div class="t w" style="left:1541px;top:527px;width:12px;height:36px"></div>
<div class="t h" style="left:1440px;top:535px;width:50px;height:17px">...محص [+]</div>
<div class="t m" style="left:1440px;top:552px;width:32px;height:11px"></div>
<div class="t g" style="left:1472px;top:552px;width:8px;height:11px"></div>
<div class="t r" style="left:1480px;top:552px;width:10px;height:11px"></div>
<div class="t h" style="left:1490px;top:547px;width:33px;height:16px">... [+]</div>
<div class="t w" style="left:1523px;top:548px;width:18px;height:15px"></div>
</div></body></html>
